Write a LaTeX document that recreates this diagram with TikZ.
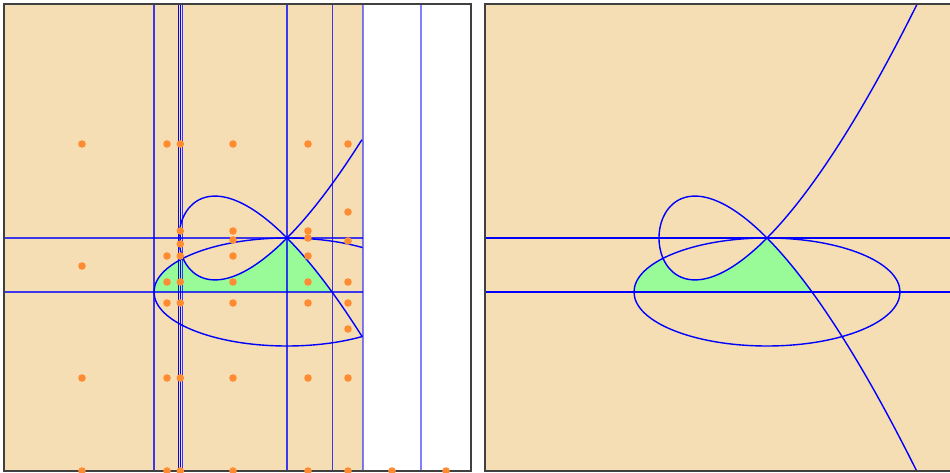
\documentclass[tikz,border=0pt]{standalone}
\definecolor{wheatc}{HTML}{F5DEB3}
\definecolor{greenc}{HTML}{98FB98}
\definecolor{dotc}{HTML}{FF8C33}
\definecolor{framec}{HTML}{404040}
\newcommand\greenreg[1]{%
  \fill[greenc] plot[domain=180:141.4,samples=20] ({#1+133*cos(\x)},{292-54*sin(\x)})
    -- plot[domain=2:10.392,samples=40] ({#1+\x*\x-108},{238-0.097*(\x*\x-108)*\x})
    -- plot[domain=-10.392:-12.369,samples=20] ({#1+\x*\x-108},{238-0.097*(\x*\x-108)*\x})
    -- cycle;}
\begin{document}
\begin{tikzpicture}[x=1pt,y=-1pt,
  curve/.style={blue, line width=1.4pt},
  gridline/.style={blue, opacity=0.75, line width=1.5pt},
  faintline/.style={blue, opacity=0.5, line width=2pt},
  framebox/.style={framec, line width=1.6pt},
  dotmark/.style={dotc}]
\useasboundingbox (0,0) rectangle (950,473);
% ---------- left panel ----------
\fill[white] (4,4) rectangle (471,471);
\fill[wheatc] (4,4) rectangle (362.5,471);
\greenreg{287}
\foreach \yy in {238,292} \draw[gridline] (4,\yy) -- (362.5,\yy);
\foreach \xx in {154,182.3,287,332.5} \draw[gridline] (\xx,4) -- (\xx,471);
\foreach \xx in {178.3,180.3} \draw[curve, line width=1.2pt] (\xx,4) -- (\xx,471);
\foreach \xx in {362.5,420.5} \draw[faintline] (\xx,4) -- (\xx,471);
\begin{scope}
  \clip (4,4) rectangle (362.5,471);
  \draw[curve] (287,292) ellipse[x radius=133pt, y radius=54pt];
\end{scope}
\draw[curve] plot[domain=-13.528:13.528, samples=160, smooth] ({287+\x*\x-108},{238-0.097*(\x*\x-108)*\x});
\draw[framebox] (4,4) rectangle (471,471);
\foreach \px/\py in {82/144,82/266,82/378,82/471,
  167/144,167/256,167/282,167/303,167/378,167/471,
  180.3/144,180.3/231,180.3/244,180.3/256,180.3/282,180.3/303,180.3/378,180.3/471,
  233/144,233/231,233/240,233/256,233/282,233/303,233/378,233/471,
  308/144,308/231,308/238,308/256,308/282,308/303,308/378,308/471,
  348/144,348/212,348/241,348/282,348/303,348/329,348/378,348/471,
  392/471,446/471}
  \fill[dotmark] (\px,\py) circle[radius=3.8pt];
% ---------- right panel ----------
\fill[wheatc] (485,4) rectangle (955,471);
\greenreg{767}
\begin{scope}
  \clip (485,4) rectangle (955,471);
  \foreach \yy in {238,292} \draw[curve] (485,\yy) -- (955,\yy);
  \draw[curve] (767,292) ellipse[x radius=133pt, y radius=54pt];
  \draw[curve] plot[domain=-16.8:16.8, samples=200, smooth] ({767+\x*\x-108},{238-0.097*(\x*\x-108)*\x});
\end{scope}
\draw[framebox] (485,4) rectangle (955,471);
\end{tikzpicture}
\end{document}
